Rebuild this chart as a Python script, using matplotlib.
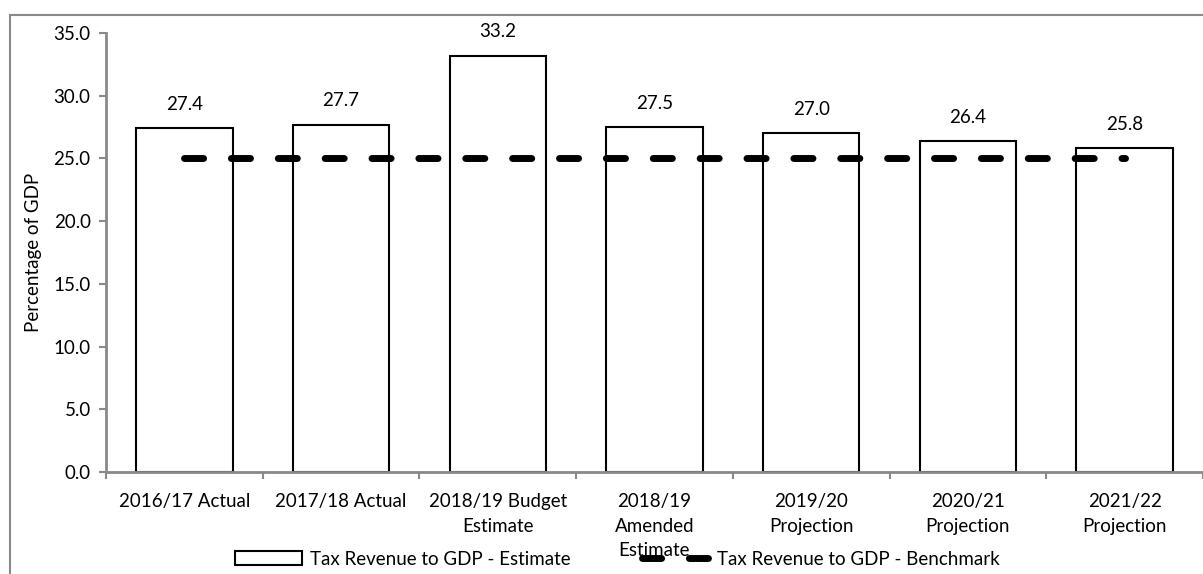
import matplotlib
matplotlib.use("Agg")
import matplotlib.pyplot as plt
from matplotlib.patches import Rectangle

plt.rcParams['font.family'] = ['Lato', 'DejaVu Sans']

categories = ["2016/17 Actual", "2017/18 Actual", "2018/19 Budget\nEstimate",
              "2018/19\nAmended\nEstimate", "2019/20\nProjection",
              "2020/21\nProjection", "2021/22\nProjection"]
estimate = [27.4, 27.7, 33.2, 27.5, 27.0, 26.4, 25.8]
benchmark = [25.0, 25.0, 25.0, 25.0, 25.0, 25.0, 25.0]

grey = "#898989"
fs = 13.5

fig = plt.figure(figsize=(12.03, 5.74), dpi=100)
ax = fig.add_axes([0.0881, 0.1777, 0.9119, 0.7648])

# outer chart border (runs off the right and bottom edges)
fig.patches.append(Rectangle((10 / 1203, -0.1), 1.2, 1 - 15 / 574 + 0.1,
                             transform=fig.transFigure, fill=False,
                             edgecolor=grey, linewidth=1.5))

x = range(len(categories))
bars = ax.bar(x, estimate, width=0.615, color="white", edgecolor="black",
              linewidth=1.5, label="Tax Revenue to GDP - Estimate", zorder=2)
line, = ax.plot(x, benchmark, color="black", linewidth=5, dashes=(2.75, 4.0),
                dash_capstyle="round", label="Tax Revenue to GDP - Benchmark", zorder=3)

for xi, v in zip(x, estimate):
    ax.annotate(f"{v:.1f}", (xi, v), xytext=(0, 17), textcoords="offset points",
                ha="center", va="center", fontsize=fs)

ax.set_xlim(-0.5, len(categories) - 0.5)
ax.set_ylim(0, 35)
ax.set_yticks([0, 5, 10, 15, 20, 25, 30, 35])
ax.set_yticklabels([f"{t:.1f}" for t in ax.get_yticks()], fontsize=fs)
ax.set_ylabel("Percentage of GDP", fontsize=fs, labelpad=8)

ax.set_xticks([i + 0.5 for i in range(-1, len(categories))], minor=False)
ax.set_xticklabels([])
ax.set_xticks(list(x), minor=True)
ax.set_xticklabels(categories, minor=True, fontsize=fs, linespacing=1.55, va="top")
ax.tick_params(axis="x", which="minor", length=0, pad=15)
ax.tick_params(axis="x", which="major", length=5, width=1.5, color=grey, direction="out")
ax.tick_params(axis="y", length=5, width=1.5, color=grey, direction="out", pad=6)

for side in ["top", "right"]:
    ax.spines[side].set_visible(False)
for side in ["left", "bottom"]:
    ax.spines[side].set_color(grey)
    ax.spines[side].set_linewidth(2)

fig.legend(handles=[bars, line], loc="center", bbox_to_anchor=(0.513, 0.026),
           ncol=2, frameon=False, fontsize=fs, handlelength=3.6,
           handletextpad=0.4, columnspacing=3.8)

fig.savefig("out.png", dpi=100)
